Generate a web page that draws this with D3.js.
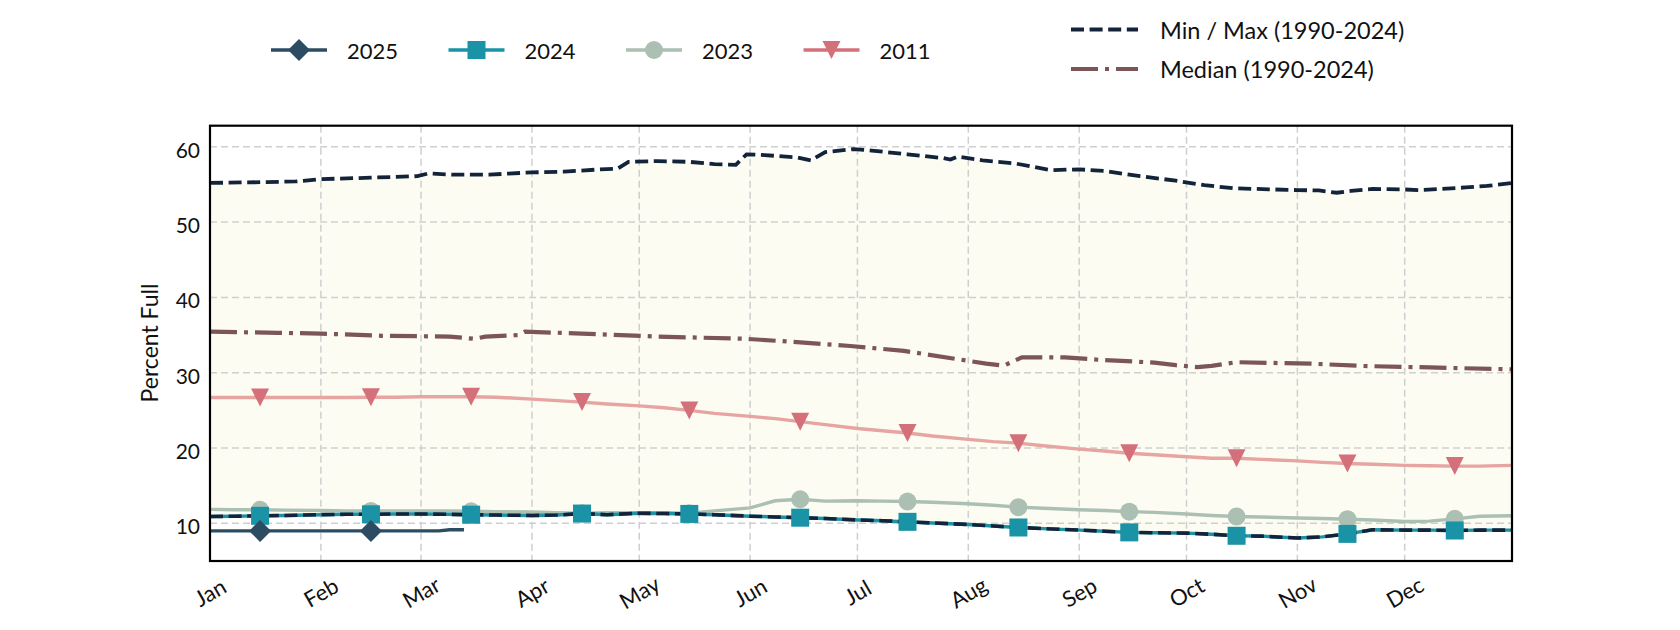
<!DOCTYPE html>
<html><head><meta charset="utf-8">
<script src="https://cdn.jsdelivr.net/npm/d3@7"></script>
<style>
body{margin:0;background:#fff}
svg{display:block}
text{font-family:Lato,"Open Sans",sans-serif;fill:#111}
</style>
</head><body>
<svg id="chart" width="1680" height="630"></svg>
<script>
// ---------------- DATA ----------------
const monthLabels = ["Jan","Feb","Mar","Apr","May","Jun","Jul","Aug","Sep","Oct","Nov","Dec"];
const yTicks = [10,20,30,40,50,60];
const yLabel = "Percent Full";

const sampleDates = [
 "01-01","01-08","01-15","01-22","02-01","02-08","02-15","02-22",
 "03-01","03-08","03-15","03-22","04-01","04-08","04-15","04-22",
 "05-01","05-08","05-15","05-22","06-01","06-08","06-15","06-22",
 "07-01","07-08","07-15","07-22","08-01","08-08","08-15","08-22",
 "09-01","09-08","09-15","09-22","10-01","10-08","10-15","10-22",
 "11-01","11-08","11-15","11-22","12-01","12-08","12-15","12-22","12-31"];

const values2024 = [
 10.9,10.95,11.0,11.05, 11.15,11.2,11.2,11.25,
 11.25,11.2,11.15,11.1, 11.05,11.1,11.3,11.15,
 11.35,11.3,11.25,11.15, 10.95,10.85,10.75,10.65,
 10.45,10.35,10.2,10.05, 9.85,9.65,9.45,9.3,
 9.1,8.95,8.8,8.75, 8.7,8.55,8.35,8.3,
 8.05,8.2,8.6,9.15, 9.1,9.1,9.05,9.1, 9.1];

const minValues = [
 10.9,10.95,11.0,11.05, 11.15,11.2,11.2,11.25,
 11.25,11.2,11.15,11.1, 11.05,11.1,11.3,11.15,
 11.35,11.3,11.25,11.15, 10.95,10.85,10.75,10.65,
 10.45,10.35,10.2,10.05, 9.85,9.65,9.45,9.3,
 9.1,8.95,8.8,8.75, 8.7,8.55,8.35,8.3,
 8.05,8.2,8.6,9.15, 9.1,9.1,9.05,9.1, 9.1];

const values2023 = [
 11.85,11.8,11.8,11.75, 11.7,11.65,11.65,11.65,
 11.65,11.65,11.6,11.55, 11.5,11.4,11.35,11.4,
 11.4,11.4,11.35,11.65, 12.05,13.0,13.2,12.95,
 13.0,12.95,12.9,12.8, 12.6,12.4,12.15,12.0,
 11.8,11.7,11.55,11.45, 11.25,11.05,10.9,10.85,
 10.7,10.65,10.55,10.45, 10.25,10.3,10.6,10.95, 11.0];

const values2011 = [
 26.7,26.7,26.7,26.7, 26.7,26.7,26.75,26.75,
 26.8,26.8,26.8,26.75, 26.5,26.3,26.1,25.85,
 25.6,25.35,25.0,24.6, 24.2,23.9,23.5,23.1,
 22.6,22.3,22.0,21.6, 21.15,20.85,20.65,20.3,
 19.85,19.6,19.3,19.1, 18.85,18.65,18.65,18.5,
 18.3,18.1,17.95,17.85, 17.7,17.65,17.6,17.6, 17.7];

const dates2025 = ["01-01","01-08","01-15","01-22","02-01","02-08","02-15","02-22","03-01","03-06","03-09","03-13"];
const values2025 = [9.0,9.0,9.0,9.0,9.0,9.0,9.0,9.0,9.0,9.0,9.15,9.15];

const maxDates = [
 "01-01","01-15","01-25","02-01","02-15","02-28","03-03","03-10","03-20","04-01",
 "04-10","04-20","04-25","04-28","05-06","05-15","05-22","05-28","05-31","06-05",
 "06-14","06-18","06-22","06-30","07-05","07-15","07-25","07-27","07-29","08-05",
 "08-14","08-24","09-01","09-08","09-18","09-28","10-06","10-14","10-24","11-01",
 "11-07","11-12","11-16","11-22","11-30","12-05","12-11","12-18","12-24","12-31"];
const maxValues = [
 55.2,55.3,55.4,55.7,55.9,56.1,56.45,56.3,56.3,56.6,
 56.7,57.0,57.1,58.0,58.1,58.0,57.7,57.6,59.0,58.9,
 58.6,58.2,59.3,59.7,59.5,59.0,58.5,58.3,58.7,58.2,
 57.8,56.9,57.0,56.8,56.1,55.5,54.9,54.5,54.35,54.25,
 54.2,53.9,54.15,54.4,54.35,54.25,54.4,54.6,54.8,55.2];

const medianDates = [
 "01-01","01-20","02-01","02-18","03-01","03-09","03-16","03-19","03-28","03-30",
 "04-15","05-06","05-31","06-16","06-29","07-14","07-29","08-06","08-11","08-16",
 "08-28","09-07","09-22","09-28","10-04","10-08","10-15","10-25","11-05","11-19",
 "12-08","12-31"];
const medianValues = [
 35.45,35.3,35.2,34.9,34.85,34.8,34.5,34.8,35.0,35.45,
 35.2,34.8,34.5,34.0,33.55,32.9,31.8,31.2,30.95,32.05,
 32.05,31.7,31.35,31.0,30.75,30.9,31.4,31.3,31.2,30.9,
 30.7,30.45];

// ---------------- CHART ----------------
const svg = d3.select("#chart");
const L = 210, R = 1512, T = 125.7, B = 561;
const parse = s => new Date(2001, +s.slice(0,2) - 1, +s.slice(3,5));
const x = d3.scaleTime().domain([new Date(2001,0,1), new Date(2001,11,31)]).range([L, R]);
const y = d3.scaleLinear().domain([5, 62.8]).range([B, T]);
const series = (dates, vals) => dates.map((d,i) => ({date: parse(d), v: vals[i]}));
const line = d3.line().x(d => x(d.date)).y(d => y(d.v));

const C = {
  y2025:"#2c4c63", y2024:"#1a93a6", y2023:"#abbfb3", y2011:"#d3707a", y2011line:"#e6a5a0",
  minmax:"#13243a", median:"#7b5558", fill:"#fcfcf2", grid:"#cfcfcf"
};

svg.append("defs").append("clipPath").attr("id","clip")
  .append("rect").attr("x",L).attr("y",T).attr("width",R-L).attr("height",B-T);

const maxS = series(maxDates, maxValues);
const minS = series(sampleDates, minValues);
const medS = series(medianDates, medianValues);
const s2024 = series(sampleDates, values2024);
const s2023 = series(sampleDates, values2023);
const s2011 = series(sampleDates, values2011);
const s2025 = series(dates2025, values2025);

const plot = svg.append("g").attr("clip-path","url(#clip)");

// fill between min and max
plot.append("path")
  .attr("d", line(maxS.concat(minS.slice().reverse())) + "Z")
  .attr("fill", C.fill);

// grid
const months = monthLabels.map((m,i) => new Date(2001, i, 1));
plot.selectAll(".gy").data(yTicks).join("line")
  .attr("x1",L).attr("x2",R).attr("y1",d=>y(d)).attr("y2",d=>y(d))
  .attr("stroke",C.grid).attr("stroke-width",1.5).attr("stroke-dasharray","7,4");
plot.selectAll(".gx").data(months).join("line")
  .attr("x1",d=>x(d)).attr("x2",d=>x(d)).attr("y1",T).attr("y2",B)
  .attr("stroke",C.grid).attr("stroke-width",1.5).attr("stroke-dasharray","7,4");

// median & max
plot.append("path").attr("d", line(medS)).attr("fill","none")
  .attr("stroke",C.median).attr("stroke-width",4.2).attr("stroke-dasharray","27,7,4,7");
plot.append("path").attr("d", line(maxS)).attr("fill","none")
  .attr("stroke",C.minmax).attr("stroke-width",3.8).attr("stroke-dasharray","13,5.6");

// markers
const tri = s => `M${-s/2},${-s/2}L${s/2},${-s/2}L0,${s/2}Z`;
function markers(data, kind, color){
  const pts = data.filter(d => d.date.getDate() === 15);
  const g = plot.append("g");
  pts.forEach(d => drawMarker(g, x(d.date), y(d.v), kind, color));
}
function drawMarker(g, cx, cy, kind, color){
  if (kind === "square") g.append("rect").attr("x",cx-9).attr("y",cy-9).attr("width",18).attr("height",18).attr("fill",color);
  else if (kind === "circle") g.append("circle").attr("cx",cx).attr("cy",cy).attr("r",9).attr("fill",color);
  else if (kind === "diamond") g.append("path").attr("d",`M${cx},${cy-11}L${cx+11},${cy}L${cx},${cy+11}L${cx-11},${cy}Z`).attr("fill",color);
  else if (kind === "tri") g.append("path").attr("transform",`translate(${cx},${cy})`).attr("d",tri(18)).attr("fill",color);
}

// 2011
plot.append("path").attr("d", line(s2011)).attr("fill","none").attr("stroke",C.y2011line).attr("stroke-width",3.4);
markers(s2011, "tri", C.y2011);
// 2023
plot.append("path").attr("d", line(s2023)).attr("fill","none").attr("stroke",C.y2023).attr("stroke-width",3.4);
markers(s2023, "circle", C.y2023);
// 2024 + min
plot.append("path").attr("d", line(s2024)).attr("fill","none").attr("stroke",C.y2024).attr("stroke-width",3.4);
plot.append("path").attr("d", line(minS)).attr("fill","none")
  .attr("stroke",C.minmax).attr("stroke-width",3.6).attr("stroke-dasharray","13,5.6");
markers(s2024, "square", C.y2024);
// 2025
plot.append("path").attr("d", line(s2025)).attr("fill","none").attr("stroke",C.y2025).attr("stroke-width",3.4);
markers(s2025, "diamond", C.y2025);

// frame
svg.append("rect").attr("x",L).attr("y",T).attr("width",R-L).attr("height",B-T)
  .attr("fill","none").attr("stroke","#000").attr("stroke-width",2.2);

// y tick labels
svg.selectAll(".yt").data(yTicks).join("text")
  .attr("x", L - 10).attr("y", d => y(d) + 11)
  .attr("text-anchor","end").attr("font-size",21).text(d => d);

// x tick labels
svg.selectAll(".xt").data(months).join("text")
  .attr("transform", d => `translate(${x(d)},592) rotate(-30)`)
  .attr("text-anchor","middle").attr("dominant-baseline","central")
  .attr("font-size",22).text((d,i) => monthLabels[i]);

// y label
svg.append("text").attr("transform","translate(149,343) rotate(-90)")
  .attr("text-anchor","middle").attr("dominant-baseline","central")
  .attr("font-size",23).text(yLabel);

// legend (years)
const yearLegend = [
  {label:"2025", color:C.y2025, kind:"diamond"},
  {label:"2024", color:C.y2024, kind:"square"},
  {label:"2023", color:C.y2023, kind:"circle"},
  {label:"2011", color:C.y2011, kind:"tri"}
];
const lg = svg.append("g");
yearLegend.forEach((d,i) => {
  const x0 = 271 + i*177.5, yy = 50;
  lg.append("line").attr("x1",x0).attr("x2",x0+56).attr("y1",yy).attr("y2",yy)
    .attr("stroke",d.color).attr("stroke-width",3.5);
  drawMarker(lg, x0+28, yy, d.kind, d.color);
  lg.append("text").attr("x",x0+76).attr("y",yy).attr("dominant-baseline","central")
    .attr("font-size",22).text(d.label);
});
// legend (stats)
const statLegend = [
  {label:"Min / Max (1990-2024)", color:C.minmax, dash:"13,5.6", w:3.8, yy:29.5},
  {label:"Median (1990-2024)", color:C.median, dash:"27,7,4,7", w:4.2, yy:69}
];
statLegend.forEach(d => {
  lg.append("line").attr("x1",1071).attr("x2",1138).attr("y1",d.yy).attr("y2",d.yy)
    .attr("stroke",d.color).attr("stroke-width",d.w).attr("stroke-dasharray",d.dash);
  lg.append("text").attr("x",1160).attr("y",d.yy).attr("dominant-baseline","central")
    .attr("font-size",23.5).text(d.label);
});
</script>
</body></html>
